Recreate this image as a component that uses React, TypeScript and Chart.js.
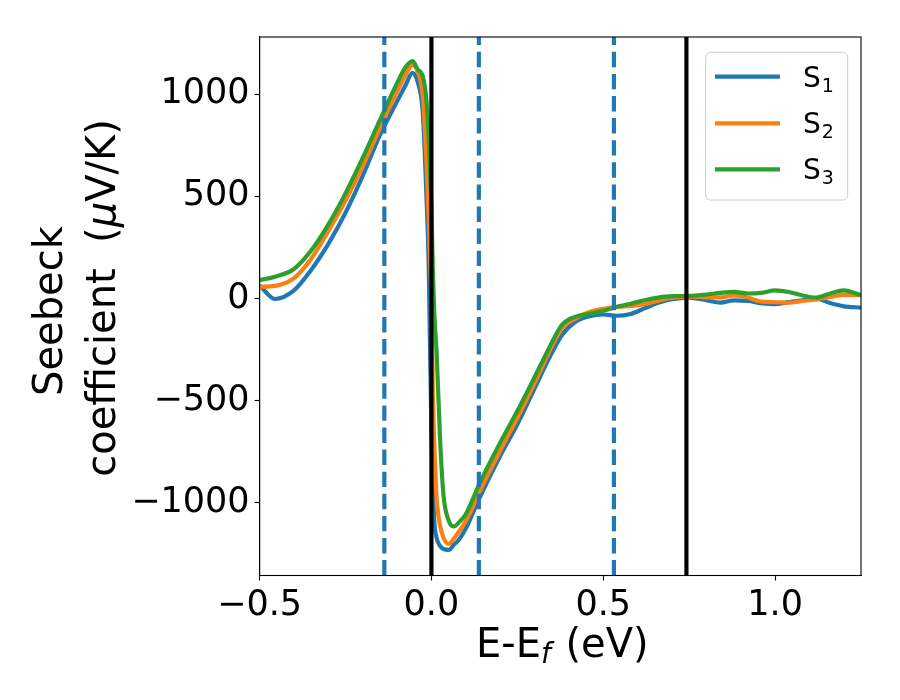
import { useEffect, useRef } from 'react'
import Chart from 'chart.js/auto'

// energy grid (eV), denser around the Fermi level where the curves drop
const ENERGY = [
  -0.5, -0.455, -0.4, -0.35, -0.3, -0.25, -0.2, -0.15, -0.1, -0.075, -0.055, -0.04, -0.025,
  -0.015, -0.008, -0.004, 0, 0.004, 0.008, 0.015, 0.025, 0.035, 0.05, 0.065, 0.08, 0.1, 0.14,
  0.2, 0.25, 0.3, 0.34, 0.38, 0.42, 0.46, 0.5, 0.54, 0.58, 0.62, 0.66, 0.7, 0.75, 0.8, 0.84,
  0.88, 0.92, 0.96, 1.0, 1.04, 1.08, 1.12, 1.16, 1.2, 1.25,
]

const S1 = [
  65, -2, 40, 140, 268, 420, 600, 800, 965, 1045, 1105, 1060, 906,
  520, 170, -250, -650, -900, -1080, -1170, -1210, -1225, -1230, -1205, -1180, -1125, -975,
  -770, -615, -440, -300, -178, -112, -86, -78, -84, -75, -48, -20, -3, 5, -8, -20,
  -9, -12, -22, -27, -17, -8, 0, -22, -38, -44,
]

const S2 = [
  58, 62, 100, 195, 330, 480, 648, 833, 1013, 1095, 1142, 1110, 988,
  690, 400, 200, 0, -450, -700, -970, -1110, -1170, -1200, -1175, -1140, -1090, -945,
  -745, -585, -415, -270, -145, -97, -66, -50, -40, -36, -28, -10, 4, 10, 6, 6,
  15, 5, -15, -18, -20, -12, -4, 8, 18, 17,
]

const S3 = [
  90, 107, 145, 235, 362, 515, 688, 873, 1054, 1133, 1162, 1122, 1086,
  980, 790, 620, 450, 150, -60, -260, -680, -960, -1085, -1115, -1095, -1055, -905,
  -705, -550, -385, -250, -128, -88, -75, -60, -40, -25, -8, 5, 12, 13, 20, 28,
  33, 25, 28, 40, 32, 15, 5, 25, 40, 17,
]

const SERIES = ['1', '2', '3']
const COLORS = ['#1f77b4', '#ff7f0e', '#2ca02c']

const X_TICKS = [-0.5, 0, 0.5, 1.0]
const Y_TICKS = [-1000, -500, 0, 500, 1000]

const DASHED_LINES = [-0.137, 0.138, 0.531]
const SOLID_LINES = [0, 0.742]

const FONT = "'DejaVu Sans', sans-serif"
const LW = 4.17

const minus = (s: string) => s.replace('-', '\u2212')

const decorations = {
  id: 'decorations',
  afterDatasetsDraw(chart: any) {
    const { ctx, chartArea: a, scales } = chart
    ctx.save()
    ctx.beginPath()
    ctx.rect(a.left, a.top, a.right - a.left, a.bottom - a.top)
    ctx.clip()

    // dashed markers, drawn from the bottom up like matplotlib's axvline
    ctx.lineWidth = LW
    ctx.strokeStyle = '#1f77b4'
    ctx.setLineDash([15.4, 6.7])
    DASHED_LINES.forEach(v => {
      const x = scales.x.getPixelForValue(v)
      ctx.beginPath()
      ctx.moveTo(x, a.bottom)
      ctx.lineTo(x, a.top)
      ctx.stroke()
    })

    ctx.setLineDash([])
    ctx.strokeStyle = '#000'
    SOLID_LINES.forEach(v => {
      const x = scales.x.getPixelForValue(v)
      ctx.beginPath()
      ctx.moveTo(x, a.bottom)
      ctx.lineTo(x, a.top)
      ctx.stroke()
    })
    ctx.restore()
  },
  afterDraw(chart: any) {
    const { ctx, chartArea: a } = chart
    ctx.save()

    // frame (top and right spines)
    ctx.strokeStyle = '#000'
    ctx.lineWidth = 1.1
    ctx.strokeRect(a.left, a.top, a.right - a.left, a.bottom - a.top)

    ctx.fillStyle = '#000'
    ctx.textBaseline = 'alphabetic'
    ctx.textAlign = 'left'

    // x title: E-E_f (eV)
    const big = `40px ${FONT}`
    const sub = `italic 28px ${FONT}`
    ctx.font = big
    const w1 = ctx.measureText('E-E').width
    const w3 = ctx.measureText(' (eV)').width
    ctx.font = sub
    const w2 = ctx.measureText('f').width + 2
    let x = (a.left + a.right) / 2 + 2 - (w1 + w2 + w3) / 2
    const base = 656.7
    ctx.font = big
    ctx.fillText('E-E', x, base)
    x += w1
    ctx.font = sub
    ctx.fillText('f', x, base + 6)
    x += w2
    ctx.font = big
    ctx.fillText(' (eV)', x, base)

    // y title, two lines, rotated
    ctx.save()
    ctx.translate(61.7, 311)
    ctx.rotate(-Math.PI / 2)
    ctx.font = big
    ctx.textAlign = 'center'
    ctx.fillText('Seebeck', 0, 0)
    ctx.restore()

    ctx.save()
    ctx.translate(115, 298)
    ctx.rotate(-Math.PI / 2)
    const p1 = 'coefficient  ('
    const p3 = 'V/K)'
    ctx.font = big
    const a1 = ctx.measureText(p1).width
    const a3 = ctx.measureText(p3).width
    ctx.font = `italic 40px ${FONT}`
    const a2 = ctx.measureText('\u03bc').width
    let t = -(a1 + a2 + a3) / 2
    ctx.textAlign = 'left'
    ctx.font = big
    ctx.fillText(p1, t, 0)
    t += a1
    ctx.font = `italic 40px ${FONT}`
    ctx.fillText('\u03bc', t, 0)
    t += a2
    ctx.font = big
    ctx.fillText(p3, t, 0)
    ctx.restore()

    // legend
    const lx = 705.7, ly = 52.3, lw = 142, lh = 147.7, r = 5
    ctx.beginPath()
    ctx.roundRect(lx, ly, lw, lh, r)
    ctx.fillStyle = 'rgba(255,255,255,0.8)'
    ctx.fill()
    ctx.strokeStyle = '#cccccc'
    ctx.lineWidth = 1
    ctx.stroke()
    const rows = [76.7, 123.3, 169.3]
    SERIES.forEach((s, i) => {
      ctx.strokeStyle = COLORS[i]
      ctx.lineWidth = LW
      ctx.beginPath()
      ctx.moveTo(715, rows[i])
      ctx.lineTo(780, rows[i])
      ctx.stroke()
      ctx.fillStyle = '#000'
      ctx.textAlign = 'left'
      ctx.font = `28px ${FONT}`
      ctx.fillText('S', 803, rows[i] + 10)
      const sw = ctx.measureText('S').width
      ctx.font = `19px ${FONT}`
      ctx.fillText(s, 803 + sw + 1, rows[i] + 15)
    })

    ctx.restore()
  },
}

export default function App() {
  const chartRef = useRef<HTMLCanvasElement>(null)
  const chartInstance = useRef<Chart | null>(null)

  useEffect(() => {
    if (!chartRef.current) return
    if (chartInstance.current) chartInstance.current.destroy()

    const ctx = chartRef.current.getContext('2d')
    if (!ctx) return

    const seriesData = [S1, S2, S3]

    const axisCommon = {
      type: 'linear' as const,
      grid: {
        drawOnChartArea: false,
        drawTicks: true,
        tickLength: 5,
        tickColor: '#000',
        tickWidth: 1.1,
      },
      border: { color: '#000', width: 1.1 },
    }

    chartInstance.current = new Chart(ctx, {
      type: 'line',
      data: {
        datasets: seriesData.map((ys, i) => ({
          label: `S${SERIES[i]}`,
          data: ENERGY.map((x, j) => ({ x, y: ys[j] })),
          borderColor: COLORS[i],
          backgroundColor: COLORS[i],
          borderWidth: LW,
          pointRadius: 0,
          cubicInterpolationMode: 'monotone' as const,
          fill: false,
          order: 3 - i,
        })),
      },
      options: {
        animation: false,
        responsive: false,
        maintainAspectRatio: false,
        layout: { padding: { top: 37, right: 39, left: 0, bottom: 0 } },
        plugins: {
          legend: { display: false },
          tooltip: { enabled: false },
        },
        scales: {
          x: {
            ...axisCommon,
            min: -0.5,
            max: 1.25,
            afterBuildTicks: (s: any) => {
              s.ticks = X_TICKS.map(value => ({ value }))
            },
            afterFit: (s: any) => {
              s.height = 124.5
            },
            ticks: {
              color: '#000',
              font: { family: FONT, size: 35 },
              padding: 4,
              maxRotation: 0,
              autoSkip: false,
              callback: (v: any) => minus(Number(v).toFixed(1)),
            },
          },
          y: {
            ...axisCommon,
            min: -1355,
            max: 1280,
            afterBuildTicks: (s: any) => {
              s.ticks = Y_TICKS.map(value => ({ value }))
            },
            afterFit: (s: any) => {
              s.width = 259.6
            },
            ticks: {
              color: '#000',
              font: { family: FONT, size: 35 },
              padding: 5,
              autoSkip: false,
              callback: (v: any) => minus(String(v)),
            },
          },
        },
      },
      plugins: [decorations],
    })

    return () => {
      if (chartInstance.current) {
        chartInstance.current.destroy()
        chartInstance.current = null
      }
    }
  }, [])

  return (
    <div style={{ position: 'fixed', left: 0, top: 0, width: 900, height: 700, background: '#fff' }}>
      <canvas ref={chartRef} width={900} height={700} style={{ display: 'block' }} />
    </div>
  )
}
